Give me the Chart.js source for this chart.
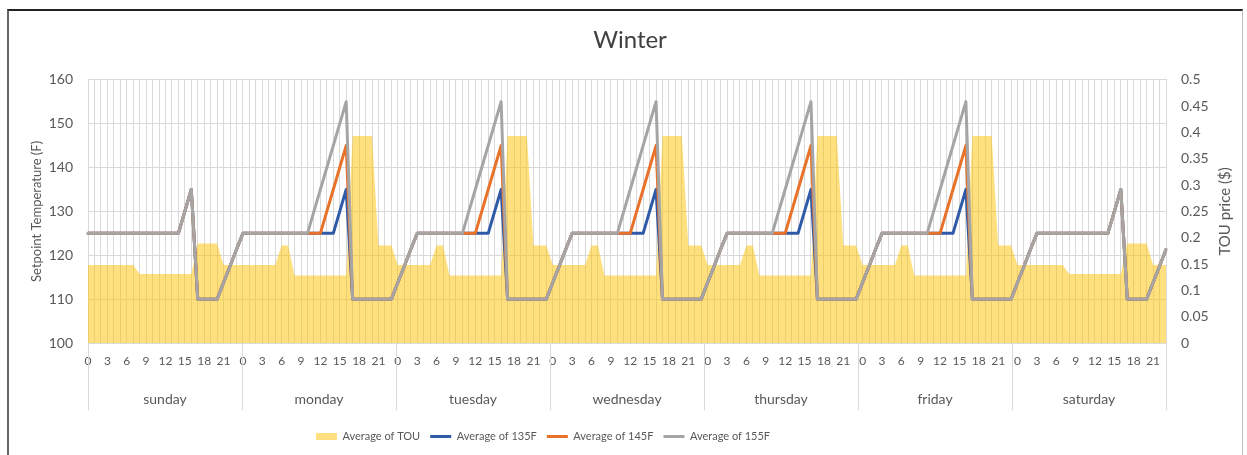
<!DOCTYPE html>
<html>
<head>
<meta charset="utf-8">
<title>Winter</title>
<script src="https://cdn.jsdelivr.net/npm/chart.js@4.4.0/dist/chart.umd.min.js"></script>
<style>
  html, body { margin: 0; padding: 0; background: #fff; }
  #wrap { position: relative; width: 1247px; height: 455px; overflow: hidden; }
  #frame { position: absolute; left: 7px; top: 9px; width: 1233px; height: 470px;
           border-top: 2px solid #222; border-left: 2px solid #666; border-right: 1px solid #bdbdbd; }
  canvas { position: absolute; left: 0; top: 0; }
</style>
</head>
<body>
<div id="wrap">
  <div id="frame"></div>
  <canvas id="chart" width="1247" height="455"></canvas>
</div>
<script>
const days = ["sunday", "monday", "tuesday", "wednesday", "thursday", "friday", "saturday"];
const hours = [0, 1, 2, 3, 4, 5, 6, 7, 8, 9, 10, 11, 12, 13, 14, 15, 16, 17, 18, 19, 20, 21, 22, 23];

// TOU price ($), one row per day
const tou = [
  0.148,0.148,0.148,0.148,0.148,0.148,0.148,0.148,0.131,0.131,0.131,0.131,0.131,0.131,0.131,0.131,0.131,0.189,0.189,0.189,0.189,0.148,0.148,0.148,
  0.148,0.148,0.148,0.148,0.148,0.148,0.185,0.185,0.128,0.128,0.128,0.128,0.128,0.128,0.128,0.128,0.128,0.393,0.393,0.393,0.393,0.185,0.185,0.185,
  0.148,0.148,0.148,0.148,0.148,0.148,0.185,0.185,0.128,0.128,0.128,0.128,0.128,0.128,0.128,0.128,0.128,0.393,0.393,0.393,0.393,0.185,0.185,0.185,
  0.148,0.148,0.148,0.148,0.148,0.148,0.185,0.185,0.128,0.128,0.128,0.128,0.128,0.128,0.128,0.128,0.128,0.393,0.393,0.393,0.393,0.185,0.185,0.185,
  0.148,0.148,0.148,0.148,0.148,0.148,0.185,0.185,0.128,0.128,0.128,0.128,0.128,0.128,0.128,0.128,0.128,0.393,0.393,0.393,0.393,0.185,0.185,0.185,
  0.148,0.148,0.148,0.148,0.148,0.148,0.185,0.185,0.128,0.128,0.128,0.128,0.128,0.128,0.128,0.128,0.128,0.393,0.393,0.393,0.393,0.185,0.185,0.185,
  0.148,0.148,0.148,0.148,0.148,0.148,0.148,0.148,0.131,0.131,0.131,0.131,0.131,0.131,0.131,0.131,0.131,0.189,0.189,0.189,0.189,0.148,0.148,0.148
];

// setpoint temperature (F)
const avg135 = [
  125,125,125,125,125,125,125,125,125,125,125,125,125,125,125,130,135,110,110,110,110,113.8,117.5,121.3,
  125,125,125,125,125,125,125,125,125,125,125,125,125,125,125,130,135,110,110,110,110,110,110,110,
  113.8,117.5,121.3,125,125,125,125,125,125,125,125,125,125,125,125,130,135,110,110,110,110,110,110,110,
  113.8,117.5,121.3,125,125,125,125,125,125,125,125,125,125,125,125,130,135,110,110,110,110,110,110,110,
  113.8,117.5,121.3,125,125,125,125,125,125,125,125,125,125,125,125,130,135,110,110,110,110,110,110,110,
  113.8,117.5,121.3,125,125,125,125,125,125,125,125,125,125,125,125,130,135,110,110,110,110,110,110,110,
  113.8,117.5,121.3,125,125,125,125,125,125,125,125,125,125,125,125,130,135,110,110,110,110,113.8,117.5,121.3
];
const avg145 = [
  125,125,125,125,125,125,125,125,125,125,125,125,125,125,125,130,135,110,110,110,110,113.8,117.5,121.3,
  125,125,125,125,125,125,125,125,125,125,125,125,125,130,135,140,145,110,110,110,110,110,110,110,
  113.8,117.5,121.3,125,125,125,125,125,125,125,125,125,125,130,135,140,145,110,110,110,110,110,110,110,
  113.8,117.5,121.3,125,125,125,125,125,125,125,125,125,125,130,135,140,145,110,110,110,110,110,110,110,
  113.8,117.5,121.3,125,125,125,125,125,125,125,125,125,125,130,135,140,145,110,110,110,110,110,110,110,
  113.8,117.5,121.3,125,125,125,125,125,125,125,125,125,125,130,135,140,145,110,110,110,110,110,110,110,
  113.8,117.5,121.3,125,125,125,125,125,125,125,125,125,125,125,125,130,135,110,110,110,110,113.8,117.5,121.3
];
const avg155 = [
  125,125,125,125,125,125,125,125,125,125,125,125,125,125,125,130,135,110,110,110,110,113.8,117.5,121.3,
  125,125,125,125,125,125,125,125,125,125,125,130,135,140,145,150,155,110,110,110,110,110,110,110,
  113.8,117.5,121.3,125,125,125,125,125,125,125,125,130,135,140,145,150,155,110,110,110,110,110,110,110,
  113.8,117.5,121.3,125,125,125,125,125,125,125,125,130,135,140,145,150,155,110,110,110,110,110,110,110,
  113.8,117.5,121.3,125,125,125,125,125,125,125,125,130,135,140,145,150,155,110,110,110,110,110,110,110,
  113.8,117.5,121.3,125,125,125,125,125,125,125,125,130,135,140,145,150,155,110,110,110,110,110,110,110,
  113.8,117.5,121.3,125,125,125,125,125,125,125,125,125,125,125,125,130,135,110,110,110,110,113.8,117.5,121.3
];

const labels = [];
days.forEach(d => hours.forEach(h => labels.push(h)));

const FONT = "Lato, 'Open Sans', sans-serif";
const TXT = "#595959";
const GRID = "#d9d9d9";

// day separators running down through both label rows
const daySeparators = {
  id: "daySeparators",
  afterDraw(chart) {
    const x = chart.scales.x, d = chart.scales.xDay, ctx = chart.ctx;
    ctx.save();
    ctx.strokeStyle = GRID;
    ctx.lineWidth = 1;
    for (let i = 0; i <= days.length; i++) {
      const px = Math.round(d.getPixelForValue(i - 0.5)) + 0.5;
      ctx.beginPath();
      ctx.moveTo(px, x.top);
      ctx.lineTo(px, x.bottom + 30);
      ctx.stroke();
    }
    ctx.restore();
  }
};

// right axis title reads bottom-to-top like the left one
const rightTitle = {
  id: "rightTitle",
  afterDraw(chart) {
    const s = chart.scales.y1, ctx = chart.ctx;
    ctx.save();
    ctx.translate(s.right - 11, (s.top + s.bottom) / 2);
    ctx.rotate(-Math.PI / 2);
    ctx.font = "15px " + FONT;
    ctx.fillStyle = TXT;
    ctx.textAlign = "center";
    ctx.textBaseline = "middle";
    ctx.fillText("TOU price ($)", 0, 0);
    ctx.restore();
  }
};

// legend sits left of centre in the original, title a touch right
const boxShift = {
  id: "boxShift",
  afterLayout(chart) {
    chart.legend.right -= 160;
    chart.titleBlock.left += 14;
  }
};

new Chart(document.getElementById("chart"), {
  type: "line",
  data: {
    labels: labels,
    datasets: [
      {
        label: "Average of TOU",
        data: tou,
        yAxisID: "y1",
        fill: "origin",
        backgroundColor: "rgba(255, 194, 0, 0.5)",
        borderWidth: 0,
        borderColor: "rgba(0,0,0,0)",
        pointRadius: 0,
        order: 4
      },
      {
        label: "Average of 135F",
        data: avg135,
        yAxisID: "y",
        borderColor: "#2f5aa8",
        borderWidth: 3,
        pointRadius: 0,
        fill: false,
        order: 3
      },
      {
        label: "Average of 145F",
        data: avg145,
        yAxisID: "y",
        borderColor: "#e8722a",
        borderWidth: 3,
        pointRadius: 0,
        fill: false,
        order: 2
      },
      {
        label: "Average of 155F",
        data: avg155,
        yAxisID: "y",
        borderColor: "#a5a5a5",
        borderWidth: 3,
        pointRadius: 0,
        fill: false,
        order: 1
      }
    ]
  },
  options: {
    responsive: false,
    animation: false,
    devicePixelRatio: 1,
    elements: { line: { tension: 0, borderJoinStyle: "round", borderCapStyle: "round" } },
    layout: { padding: { top: 12, left: 10, right: 11, bottom: 3 } },
    plugins: {
      tooltip: { enabled: false },
      title: {
        display: true,
        text: "Winter",
        color: "#404040",
        font: { family: FONT, size: 24, weight: "normal" },
        padding: { top: 14, bottom: 25 }
      },
      legend: {
        position: "bottom",
        labels: {
          color: TXT,
          font: { family: FONT, size: 11 },
          usePointStyle: true,
          pointStyleWidth: 21,
          boxHeight: 7,
          padding: 10,
          sort: (a, b) => a.datasetIndex - b.datasetIndex,
          generateLabels(chart) {
            return chart.data.datasets.map((ds, i) => ({
              text: ds.label,
              datasetIndex: i,
              fillStyle: i === 0 ? "#ffdf80" : ds.borderColor,
              strokeStyle: i === 0 ? "#ffdf80" : ds.borderColor,
              lineWidth: i === 0 ? 0 : 3,
              pointStyle: i === 0 ? "rect" : "line",
              fontColor: TXT,
              hidden: false
            }));
          }
        }
      }
    },
    scales: {
      x: {
        type: "category",
        position: "bottom",
        offset: false,
        weight: 0,
        afterFit(s) { s.height = 37; },
        grid: { color: GRID, drawTicks: false },
        border: { color: GRID },
        ticks: {
          autoSkip: false,
          maxRotation: 0,
          padding: 11,
          color: TXT,
          font: { family: FONT, size: 12 },
          callback(value, index) {
            const h = hours[index % 24];
            return h % 3 === 0 ? String(h) : "";
          }
        }
      },
      xDay: {
        type: "category",
        labels: days,
        position: "bottom",
        offset: true,
        weight: 1,
        afterFit(s) { s.height = 41; },
        grid: { display: false, drawTicks: false },
        border: { display: false },
        ticks: { padding: 11, color: TXT, font: { family: FONT, size: 14 } }
      },
      y: {
        position: "left",
        min: 100,
        max: 160,
        afterFit(s) { s.width = 78; },
        grid: { color: GRID, drawTicks: false },
        border: { color: GRID },
        ticks: { stepSize: 10, padding: 15, color: TXT, font: { family: FONT, size: 14 } },
        title: {
          display: true,
          text: "Setpoint Temperature (F)",
          color: TXT,
          font: { family: FONT, size: 13 },
          padding: { top: 19, bottom: 0 }
        }
      },
      y1: {
        position: "right",
        min: 0,
        max: 0.5,
        afterFit(s) { s.width = 70; },
        grid: { drawOnChartArea: false, drawTicks: false },
        border: { color: GRID },
        ticks: {
          stepSize: 0.05,
          padding: 15,
          color: TXT,
          font: { family: FONT, size: 14 },
          callback: v => String(+v.toFixed(2))
        }
      }
    }
  },
  plugins: [daySeparators, rightTitle, boxShift]
});
</script>
</body>
</html>
